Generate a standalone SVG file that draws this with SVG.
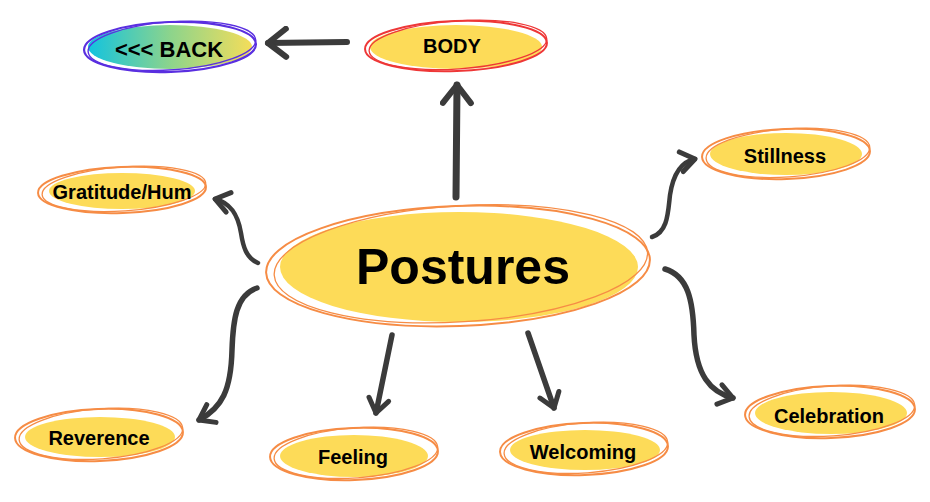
<svg xmlns="http://www.w3.org/2000/svg" width="930" height="502" viewBox="0 0 930 502">
<defs>
<linearGradient id="backGrad" x1="0" y1="0" x2="1" y2="0">
<stop offset="0" stop-color="#12C3DF"/>
<stop offset="0.5" stop-color="#8CD48C"/>
<stop offset="1" stop-color="#F4DD5A"/>
</linearGradient>
<marker id="head" markerUnits="userSpaceOnUse" viewBox="0 0 26 26" markerWidth="26" markerHeight="26" refX="20" refY="13" orient="auto">
<path d="M6,3 L20,13 L6,23" fill="none" stroke="#3b3b3b" stroke-width="5" stroke-linecap="round" stroke-linejoin="round"/>
</marker>
<marker id="headBig" markerUnits="userSpaceOnUse" viewBox="0 0 34 34" markerWidth="34" markerHeight="34" refX="27" refY="17" orient="auto">
<path d="M9,3 L27,17 L9,31" fill="none" stroke="#3b3b3b" stroke-width="6" stroke-linecap="round" stroke-linejoin="round"/>
</marker>
</defs>
<style>
.fill{fill:#FDDB58;}
.ring{fill:none;stroke:#F68C45;stroke-width:2;}
.ring2{fill:none;stroke:#F68C45;stroke-width:1.3;}
.ringR{fill:none;stroke:#EE3737;stroke-width:2;}
.ringR2{fill:none;stroke:#EE3737;stroke-width:1.3;}
.ringP{fill:none;stroke:#5A2FE0;stroke-width:2.2;}
.ringP2{fill:none;stroke:#5A2FE0;stroke-width:1.4;}
.lbl{font-family:"Liberation Sans",Arial,sans-serif;font-weight:bold;fill:#000;text-anchor:middle;}
.conn{fill:none;stroke:#3b3b3b;stroke-linecap:round;}
</style>
<rect width="930" height="502" fill="#ffffff"/>

<g id="connectors">
<path class="conn" d="M347,42 L268,43" stroke-width="6" marker-end="url(#headBig)"/>
<path class="conn" d="M456,197 L457,85" stroke-width="7" marker-end="url(#headBig)"/>
<path class="conn" d="M258,263 C246,258 243,246 241,233 C238,215 231,203 215,199" stroke-width="4.5" marker-end="url(#head)"/>
<path class="conn" d="M652,237 C668,232 668,212 670,195 C673,175 680,162 695,159" stroke-width="4.5" marker-end="url(#head)"/>
<path class="conn" d="M257,288 C236,295 233,320 232,350 C231,390 222,408 199,420" stroke-width="5.5" marker-end="url(#head)"/>
<path class="conn" d="M392,335 L376,413" stroke-width="5.5" marker-end="url(#head)"/>
<path class="conn" d="M528,333 L554,408" stroke-width="5.5" marker-end="url(#head)"/>
<path class="conn" d="M665,269 C688,276 693,300 694,335 C696,375 710,392 733,398" stroke-width="5.5" marker-end="url(#head)"/>
</g>

<g id="back">
<ellipse cx="170" cy="47" rx="82" ry="22" fill="url(#backGrad)"/>
<ellipse class="ringP" cx="170" cy="47" rx="86" ry="25" transform="rotate(-2 170 47)"/>
<ellipse class="ringP2" cx="172" cy="46" rx="84" ry="24" transform="rotate(-4 170 47)"/>
<text class="lbl" x="169" y="57" font-size="22">&lt;&lt;&lt; BACK</text>
</g>

<g id="body">
<ellipse class="fill" cx="456" cy="47" rx="86" ry="22"/>
<ellipse class="ringR" cx="456" cy="46" rx="91" ry="25" transform="rotate(-2 456 46)"/>
<ellipse class="ringR2" cx="458" cy="45" rx="89" ry="24" transform="rotate(-4 456 46)"/>
<text class="lbl" x="452" y="53" font-size="20">BODY</text>
</g>

<g id="postures">
<ellipse class="fill" cx="459" cy="267" rx="179" ry="55"/>
<ellipse class="ring" cx="458" cy="266" rx="192" ry="60" transform="rotate(-2 458 266)" stroke-width="3"/>
<ellipse class="ring2" cx="461" cy="264" rx="187" ry="58" transform="rotate(-3.5 458 266)" stroke-width="2"/>
<text class="lbl" x="463" y="284" font-size="50">Postures</text>
</g>

<g id="gratitude">
<ellipse class="fill" cx="122" cy="191" rx="73" ry="18"/>
<ellipse class="ring" cx="122" cy="190" rx="84" ry="23" transform="rotate(-2 122 190)"/>
<ellipse class="ring2" cx="124" cy="189" rx="82" ry="22" transform="rotate(-4 122 190)"/>
<text class="lbl" x="122" y="199" font-size="20">Gratitude/Hum</text>
</g>

<g id="stillness">
<ellipse class="fill" cx="786" cy="154" rx="76" ry="21"/>
<ellipse class="ring" cx="786" cy="154" rx="84" ry="25" transform="rotate(-2 786 154)"/>
<ellipse class="ring2" cx="788" cy="153" rx="82" ry="24" transform="rotate(-4 786 154)"/>
<text class="lbl" x="785" y="163" font-size="20">Stillness</text>
</g>

<g id="reverence">
<ellipse class="fill" cx="100" cy="437" rx="75" ry="20"/>
<ellipse class="ring" cx="99" cy="435" rx="84" ry="26" transform="rotate(-2 99 435)"/>
<ellipse class="ring2" cx="101" cy="434" rx="82" ry="25" transform="rotate(-4 99 435)"/>
<text class="lbl" x="99" y="445" font-size="20">Reverence</text>
</g>

<g id="feeling">
<ellipse class="fill" cx="354" cy="456" rx="74" ry="21"/>
<ellipse class="ring" cx="354" cy="454" rx="84" ry="26" transform="rotate(-2 354 454)"/>
<ellipse class="ring2" cx="356" cy="453" rx="82" ry="25" transform="rotate(-4 354 454)"/>
<text class="lbl" x="353" y="464" font-size="20">Feeling</text>
</g>

<g id="welcoming">
<ellipse class="fill" cx="585" cy="450" rx="75" ry="20"/>
<ellipse class="ring" cx="584" cy="449" rx="84" ry="26" transform="rotate(-2 584 449)"/>
<ellipse class="ring2" cx="586" cy="448" rx="82" ry="25" transform="rotate(-4 584 449)"/>
<text class="lbl" x="583" y="459" font-size="20">Welcoming</text>
</g>

<g id="celebration">
<ellipse class="fill" cx="831" cy="413" rx="76" ry="21"/>
<ellipse class="ring" cx="830" cy="412" rx="85" ry="26" transform="rotate(-2 830 412)"/>
<ellipse class="ring2" cx="832" cy="411" rx="83" ry="25" transform="rotate(-4 830 412)"/>
<text class="lbl" x="829" y="423" font-size="20">Celebration</text>
</g>
</svg>
